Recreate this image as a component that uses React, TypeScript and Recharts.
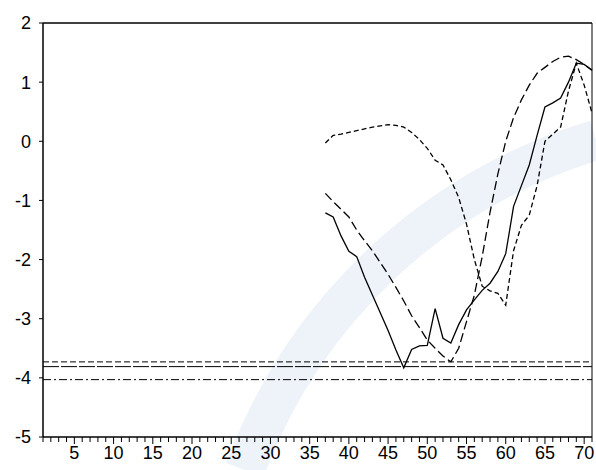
import { LineChart, Line, XAxis, YAxis, ReferenceLine } from 'recharts'

// observations 37..71 (earlier observations are empty)
const startObs = 37
const lastObs = 71

const solidSeries = [
  -1.21, -1.28, -1.6, -1.86, -1.95, -2.3, -2.6, -2.9, -3.2, -3.53,
  -3.83, -3.52, -3.46, -3.45, -2.83, -3.33, -3.41, -3.1, -2.85, -2.68,
  -2.52, -2.4, -2.2, -1.9, -1.1, -0.75, -0.4, 0.1, 0.58, 0.65,
  0.73, 1.0, 1.32, 1.3, 1.2,
]

const longDashSeries = [
  -0.88, -1.02, -1.15, -1.28, -1.5, -1.68, -1.85, -2.05, -2.25, -2.47,
  -2.7, -2.95, -3.15, -3.36, -3.5, -3.63, -3.73, -3.5, -3.05, -2.6,
  -1.95, -1.2, -0.55, 0.0, 0.4, 0.7, 0.95, 1.15, 1.25, 1.35,
  1.42, 1.44, 1.38, 1.3, 1.2,
]

const shortDashSeries = [
  -0.03, 0.1, 0.12, 0.15, 0.18, 0.21, 0.24, 0.26, 0.28, 0.27,
  0.24, 0.15, 0.03, -0.12, -0.32, -0.4, -0.65, -0.95, -1.4, -2.0,
  -2.45, -2.53, -2.57, -2.77, -1.85, -1.42, -1.25, -0.75, 0.0, 0.12,
  0.24, 0.85, 1.32, 0.95, 0.48,
]

// critical value lines
const criticalValues = [-3.73, -3.81, -4.03]
const criticalDash = ['6 3', '16 2', '8 3 2 3']

const yTicks = [-5, -4, -3, -2, -1, 0, 1, 2]
const xTicks = Array.from({ length: lastObs }, (_, i) => i + 1)

const data = solidSeries.map((v, i) => ({
  obs: startObs + i,
  solid: v,
  longDash: longDashSeries[i],
  shortDash: shortDashSeries[i],
}))

const FONT = 'Arial, "Liberation Sans", sans-serif'

const XTick = (props: any) => {
  const { x, y, payload } = props
  const major = payload.value % 5 === 0
  return (
    <g>
      <line x1={x} y1={y} x2={x} y2={y + (major ? 7 : 5)} stroke="#000" strokeWidth={1} />
      {major && (
        <text x={x} y={y + 22} textAnchor="middle" fontSize={18} fontFamily={FONT} fill="#000">
          {payload.value}
        </text>
      )}
    </g>
  )
}

export default function App() {
  return (
    <div style={{ position: 'fixed', left: 0, top: 0, width: 596, height: 470, background: '#fff' }}>
      {/* faint watermark swoosh behind the chart */}
      <svg width={596} height={470} style={{ position: 'absolute', left: 0, top: 0 }}>
        <path
          d="M 245 470 A 540 540 0 0 1 596 140"
          fill="none"
          stroke="#eef3fa"
          strokeWidth={40}
        />
      </svg>
      <LineChart
        width={596}
        height={470}
        data={data}
        margin={{ top: 23, right: 4, left: 0, bottom: 0 }}
        style={{ position: 'absolute', left: 0, top: 0 }}
      >
        <XAxis
          dataKey="obs"
          type="number"
          domain={[1, lastObs]}
          ticks={xTicks}
          interval={0}
          height={33}
          tickSize={0}
          tickMargin={0}
          tick={<XTick />}
          axisLine={{ stroke: '#000', strokeWidth: 1.5 }}
          tickLine={false}
        />
        <YAxis
          type="number"
          domain={[-5, 2]}
          ticks={yTicks}
          interval={0}
          width={43}
          tickSize={4}
          tickMargin={8}
          axisLine={{ stroke: '#000', strokeWidth: 1.5 }}
          tickLine={{ stroke: '#000' }}
          tick={{ fontSize: 18, fontFamily: FONT, fill: '#000' }}
        />
        <ReferenceLine y={2} stroke="#000" strokeWidth={1.5} />
        <ReferenceLine x={lastObs} stroke="#000" strokeWidth={1} />
        {criticalValues.map((cv, i) => (
          <ReferenceLine key={i} y={cv} stroke="#000" strokeWidth={1} strokeDasharray={criticalDash[i]} />
        ))}
        <Line dataKey="solid" stroke="#000" strokeWidth={1.3} dot={false} isAnimationActive={false} />
        <Line dataKey="longDash" stroke="#000" strokeWidth={1.3} strokeDasharray="9 4" dot={false} isAnimationActive={false} />
        <Line dataKey="shortDash" stroke="#000" strokeWidth={1.3} strokeDasharray="5 3" dot={false} isAnimationActive={false} />
      </LineChart>
    </div>
  )
}
